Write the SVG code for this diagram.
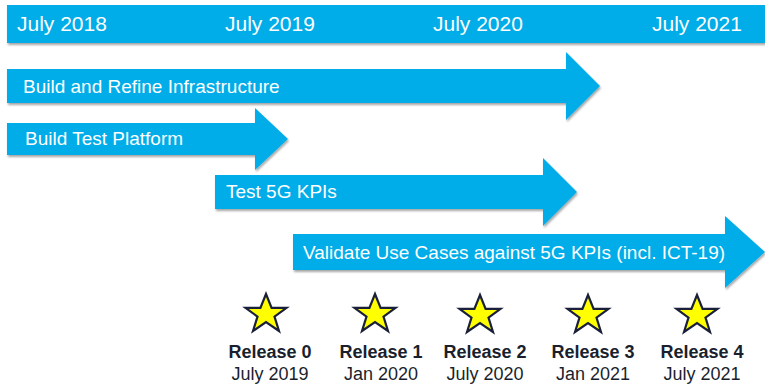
<svg xmlns="http://www.w3.org/2000/svg" width="765" height="385" viewBox="0 0 765 385">
<defs>
<filter id="sh" x="-5%" y="-20%" width="110%" height="150%">
<feDropShadow dx="1" dy="2" stdDeviation="1.2" flood-color="#000" flood-opacity="0.35"/>
</filter>
<polygon id="star" points="0,-20 5.6,-6.2 20.5,-6.2 8.5,2.6 13,17 0,8.2 -13,17 -8.5,2.6 -20.5,-6.2 -5.6,-6.2"/>
</defs>
<style>
.bar{fill:#00ADE8;filter:url(#sh)}
.wt{fill:#fff;font-family:"Liberation Sans",Arial,sans-serif}
.hd{font-size:21px}
.lb{font-size:19px}
.st{fill:#FFFF00;stroke:#1a1f3a;stroke-width:2.2;stroke-linejoin:miter}
.rel{font-family:"Liberation Sans",Arial,sans-serif;font-size:18px;font-weight:bold;fill:#1a1f2e;text-anchor:middle}
.dt{font-family:"Liberation Sans",Arial,sans-serif;font-size:18px;fill:#1a1f2e;text-anchor:middle}
</style>
<g id="timeline">
<rect class="bar" x="7" y="5" width="760" height="38"/>
<text class="wt hd" x="17" y="31">July 2018</text>
<text class="wt hd" x="225" y="31">July 2019</text>
<text class="wt hd" x="433" y="31">July 2020</text>
<text class="wt hd" x="652" y="31">July 2021</text>
</g>
<g id="arrow-infra">
<polygon class="bar" points="7,69 566,69 566,52 600,86 566,120 566,103 7,103"/>
<text class="wt lb" x="23" y="93">Build and Refine Infrastructure</text>
</g>
<g id="arrow-platform">
<polygon class="bar" points="7,123 255,123 255,108 288,139 255,170 255,155 7,155"/>
<text class="wt lb" x="25" y="145">Build Test Platform</text>
</g>
<g id="arrow-kpi">
<polygon class="bar" points="215,175 543,175 543,158 577,192 543,226 543,209 215,209"/>
<text class="wt lb" x="226" y="198">Test 5G KPIs</text>
</g>
<g id="arrow-validate">
<polygon class="bar" points="293,234 725,234 725,216 765,252 725,288 725,270 293,270"/>
<text class="wt lb" x="303" y="259">Validate Use Cases against 5G KPIs (incl. ICT-19)</text>
</g>
<g id="release-0">
<use href="#star" class="st" x="266" y="314"/>
<text class="rel" x="270" y="358">Release 0</text>
<text class="dt" x="270" y="380">July 2019</text>
</g>
<g id="release-1">
<use href="#star" class="st" x="375" y="314"/>
<text class="rel" x="381" y="358">Release 1</text>
<text class="dt" x="381" y="380">Jan 2020</text>
</g>
<g id="release-2">
<use href="#star" class="st" x="480" y="315"/>
<text class="rel" x="485" y="358">Release 2</text>
<text class="dt" x="485" y="380">July 2020</text>
</g>
<g id="release-3">
<use href="#star" class="st" x="588" y="315"/>
<text class="rel" x="593" y="358">Release 3</text>
<text class="dt" x="593" y="380">Jan 2021</text>
</g>
<g id="release-4">
<use href="#star" class="st" x="697" y="315"/>
<text class="rel" x="702" y="358">Release 4</text>
<text class="dt" x="702" y="380">July 2021</text>
</g>
</svg>
